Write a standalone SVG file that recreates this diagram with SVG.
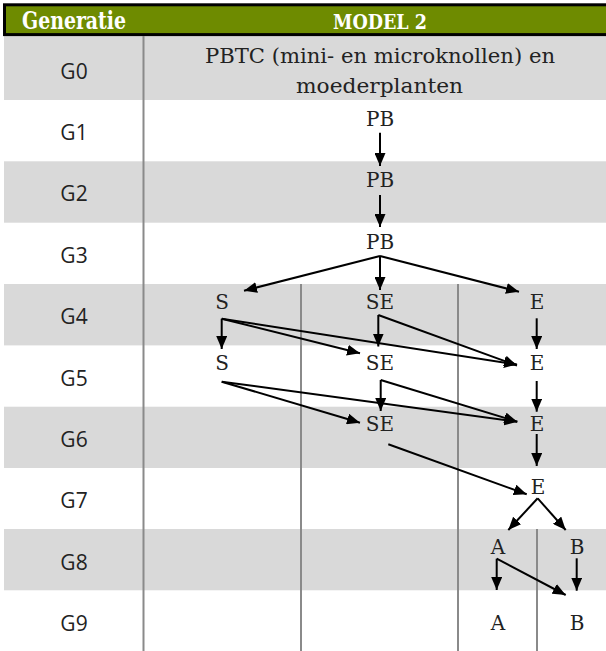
<svg xmlns="http://www.w3.org/2000/svg" width="606" height="651" viewBox="0 0 606 651">
<style>
.row{fill:#d9d9d9}
.vl{stroke:#8a8a8a;stroke-width:2;fill:none}
.gl{font-family:"Open Sans","Noto Sans",sans-serif;font-size:21px;fill:#222;text-anchor:middle}
.nd{font-family:"DejaVu Serif",serif;font-size:20px;fill:#222;text-anchor:middle}
.hd{font-family:"DejaVu Serif Condensed","DejaVu Serif",serif;font-weight:bold;fill:#fff;text-anchor:middle}
.cn{stroke:#000;stroke-width:2;fill:none;marker-end:url(#ah)}
</style>
<defs>
<marker id="ah" viewBox="0 0 13 11" refX="13" refY="5.5" markerWidth="13" markerHeight="11" markerUnits="userSpaceOnUse" orient="auto">
<path d="M0,0 L13,5.5 L0,11 z" fill="#000"/>
</marker>
</defs>
<rect width="606" height="651" fill="#fff"/>
<g id="rows">
<rect class="row" x="4" y="36" width="602" height="64"/>
<rect class="row" x="4" y="161.3" width="602" height="61.4"/>
<rect class="row" x="4" y="284" width="602" height="61.4"/>
<rect class="row" x="4" y="406.7" width="602" height="61.3"/>
<rect class="row" x="4" y="529" width="602" height="61.3"/>
</g>
<g id="header">
<rect x="4.5" y="4.8" width="640" height="29.8" fill="#6e8b00" stroke="#000" stroke-width="3"/>
<text class="hd" x="74" y="28.5" font-size="24" textLength="104" lengthAdjust="spacingAndGlyphs">Generatie</text>
<text class="hd" x="380" y="29" font-size="21" textLength="94" lengthAdjust="spacingAndGlyphs">MODEL 2</text>
</g>
<g id="gridlines">
<line class="vl" x1="143.5" y1="36" x2="143.5" y2="651"/>
<line class="vl" x1="301" y1="284" x2="301" y2="651"/>
<line class="vl" x1="458" y1="284" x2="458" y2="651"/>
<line class="vl" x1="537" y1="529" x2="537" y2="651"/>
</g>
<g id="labels">
<text class="gl" x="74" y="78.5">G0</text>
<text class="gl" x="74" y="140">G1</text>
<text class="gl" x="74" y="201.3">G2</text>
<text class="gl" x="74" y="262.6">G3</text>
<text class="gl" x="74" y="324.3">G4</text>
<text class="gl" x="74" y="385.6">G5</text>
<text class="gl" x="74" y="446.9">G6</text>
<text class="gl" x="74" y="508.2">G7</text>
<text class="gl" x="74" y="569.5">G8</text>
<text class="gl" x="74" y="630.8">G9</text>
</g>
<g id="node-G0"><text class="nd" x="380" y="62.7" textLength="350" lengthAdjust="spacingAndGlyphs">PBTC (mini- en microknollen) en</text><text class="nd" x="379.5" y="93" textLength="167" lengthAdjust="spacingAndGlyphs">moederplanten</text></g>
<g id="node-PB1"><text class="nd" x="380" y="126">PB</text></g>
<g id="node-PB2"><text class="nd" x="380" y="187.3">PB</text></g>
<g id="node-PB3"><text class="nd" x="380" y="248.5">PB</text></g>
<g id="node-S4"><text class="nd" x="222" y="309">S</text></g>
<g id="node-SE4"><text class="nd" x="380" y="309">SE</text></g>
<g id="node-E4"><text class="nd" x="537" y="309">E</text></g>
<g id="node-S5"><text class="nd" x="222" y="370">S</text></g>
<g id="node-SE5"><text class="nd" x="380" y="370">SE</text></g>
<g id="node-E5"><text class="nd" x="537" y="370">E</text></g>
<g id="node-SE6"><text class="nd" x="380" y="431">SE</text></g>
<g id="node-E6"><text class="nd" x="537" y="431">E</text></g>
<g id="node-E7"><text class="nd" x="538" y="493.5">E</text></g>
<g id="node-A8"><text class="nd" x="498" y="554">A</text></g>
<g id="node-B8"><text class="nd" x="577" y="554">B</text></g>
<g id="node-A9"><text class="nd" x="498" y="629.5">A</text></g>
<g id="node-B9"><text class="nd" x="577" y="629.5">B</text></g>
<g id="connectors">
<line class="cn" x1="380" y1="132.7" x2="380" y2="166"/>
<line class="cn" x1="380" y1="195" x2="380" y2="227"/>
<line class="cn" x1="380" y1="256" x2="244" y2="290.7"/>
<line class="cn" x1="380" y1="256" x2="380" y2="290"/>
<line class="cn" x1="380" y1="256" x2="519" y2="291.7"/>
<line class="cn" x1="221.7" y1="318.7" x2="221.7" y2="349"/>
<line class="cn" x1="221.7" y1="318.7" x2="360" y2="353.3"/>
<line class="cn" x1="221.7" y1="318.7" x2="517" y2="364.5"/>
<line class="cn" x1="378.3" y1="315" x2="378.3" y2="346.5"/>
<line class="cn" x1="378.3" y1="315" x2="517" y2="365.5"/>
<line class="cn" x1="536.7" y1="318.3" x2="536.7" y2="349"/>
<line class="cn" x1="221.7" y1="381.7" x2="360" y2="422.7"/>
<line class="cn" x1="221.7" y1="381.7" x2="517.3" y2="421.7"/>
<line class="cn" x1="380.7" y1="380" x2="380.7" y2="411"/>
<line class="cn" x1="380.7" y1="380" x2="517.3" y2="421.7"/>
<line class="cn" x1="536.7" y1="381" x2="536.7" y2="411.7"/>
<line class="cn" x1="536.7" y1="434" x2="536.7" y2="466"/>
<line class="cn" x1="388.3" y1="444.3" x2="526.7" y2="494.3"/>
<line class="cn" x1="537.7" y1="498.3" x2="508.3" y2="530"/>
<line class="cn" x1="537.7" y1="498.3" x2="565.7" y2="530"/>
<line class="cn" x1="496.7" y1="558.7" x2="496.7" y2="590"/>
<line class="cn" x1="496.7" y1="558.7" x2="565.7" y2="595"/>
<line class="cn" x1="576.7" y1="558.3" x2="576.7" y2="590.7"/>
</g>
</svg>
